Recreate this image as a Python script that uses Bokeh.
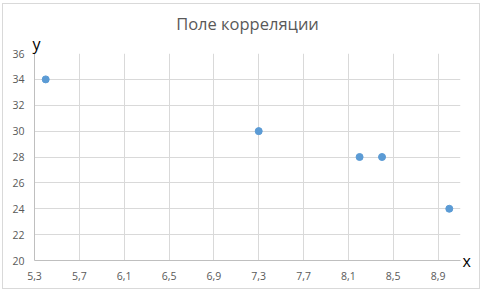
from bokeh.plotting import figure
from bokeh.models import (FixedTicker, CustomJSTickFormatter, LinearAxis,
                          Range1d, Title)
from bokeh.embed import file_html
from bokeh.resources import INLINE

# data
x_vals = [5.4, 7.3, 8.2, 8.4, 9.0]
y_vals = [34, 30, 28, 28, 24]
x_ticks = [5.3, 5.7, 6.1, 6.5, 6.9, 7.3, 7.7, 8.1, 8.5, 8.9]
y_ticks = [20, 22, 24, 26, 28, 30, 32, 34, 36]
x_range = (5.3, 9.1)
y_range = (20, 36)
title_text = "Поле корреляции"
x_name = "x"
y_name = "y"

FONT = "Open Sans"
GRAY = "#595959"

p = figure(width=478, height=286, output_backend="svg", toolbar_location=None,
           x_range=Range1d(*x_range), y_range=Range1d(*y_range),
           min_border_left=31, min_border_right=21, min_border_top=49,
           min_border_bottom=30)
p.styles = {"border": "1px solid #d9d9d9", "margin-left": "2px", "margin-top": "3px"}
p.outline_line_color = None
p.background_fill_color = "white"
p.border_fill_color = "white"

# axis name "y" (nearest to the frame), then the chart title above it
p.add_layout(Title(text=y_name, align="left", offset=-2, text_font=FONT,
                   text_font_size="16px", text_color="black",
                   text_font_style="normal", standoff=-2), "above")
p.add_layout(Title(text=title_text, align="center", offset=-5, text_font=FONT,
                   text_font_size="16.5px", text_color=GRAY,
                   text_font_style="normal", standoff=-7), "above")

for ax in (p.xaxis[0], p.yaxis[0]):
    ax.major_tick_line_color = None
    ax.minor_tick_line_color = None
    ax.axis_line_color = "#bfbfbf"
    ax.major_label_text_font = FONT
    ax.major_label_text_font_size = "10.5px"
    ax.major_label_text_color = GRAY

p.xaxis[0].major_label_standoff = 5
p.yaxis[0].major_label_standoff = 4
p.xaxis[0].ticker = FixedTicker(ticks=x_ticks)
p.yaxis[0].ticker = FixedTicker(ticks=y_ticks)
p.xaxis[0].formatter = CustomJSTickFormatter(code="return tick.toFixed(1).replace('.', ',');")
p.yaxis[0].formatter = CustomJSTickFormatter(code="return tick.toFixed(0);")

# "x" name placed at the right end of the x axis, as a right-side tick label
x_name_axis = LinearAxis(ticker=FixedTicker(ticks=[y_range[0]]),
                         formatter=CustomJSTickFormatter(code="return '%s';" % x_name),
                         axis_line_color=None, major_tick_line_color=None,
                         minor_tick_line_color=None, major_label_standoff=-4,
                         major_label_text_font=FONT, major_label_text_font_size="16px",
                         major_label_text_color="black")
p.add_layout(x_name_axis, "right")

p.xgrid.ticker = FixedTicker(ticks=x_ticks)
p.ygrid.ticker = FixedTicker(ticks=y_ticks)
p.grid.grid_line_color = "#d9d9d9"
p.grid.grid_line_width = 1

p.scatter(x_vals, y_vals, size=7, color="#5b9bd5", line_color="#5b9bd5")

open("out.html", "w").write(file_html(p, INLINE))
